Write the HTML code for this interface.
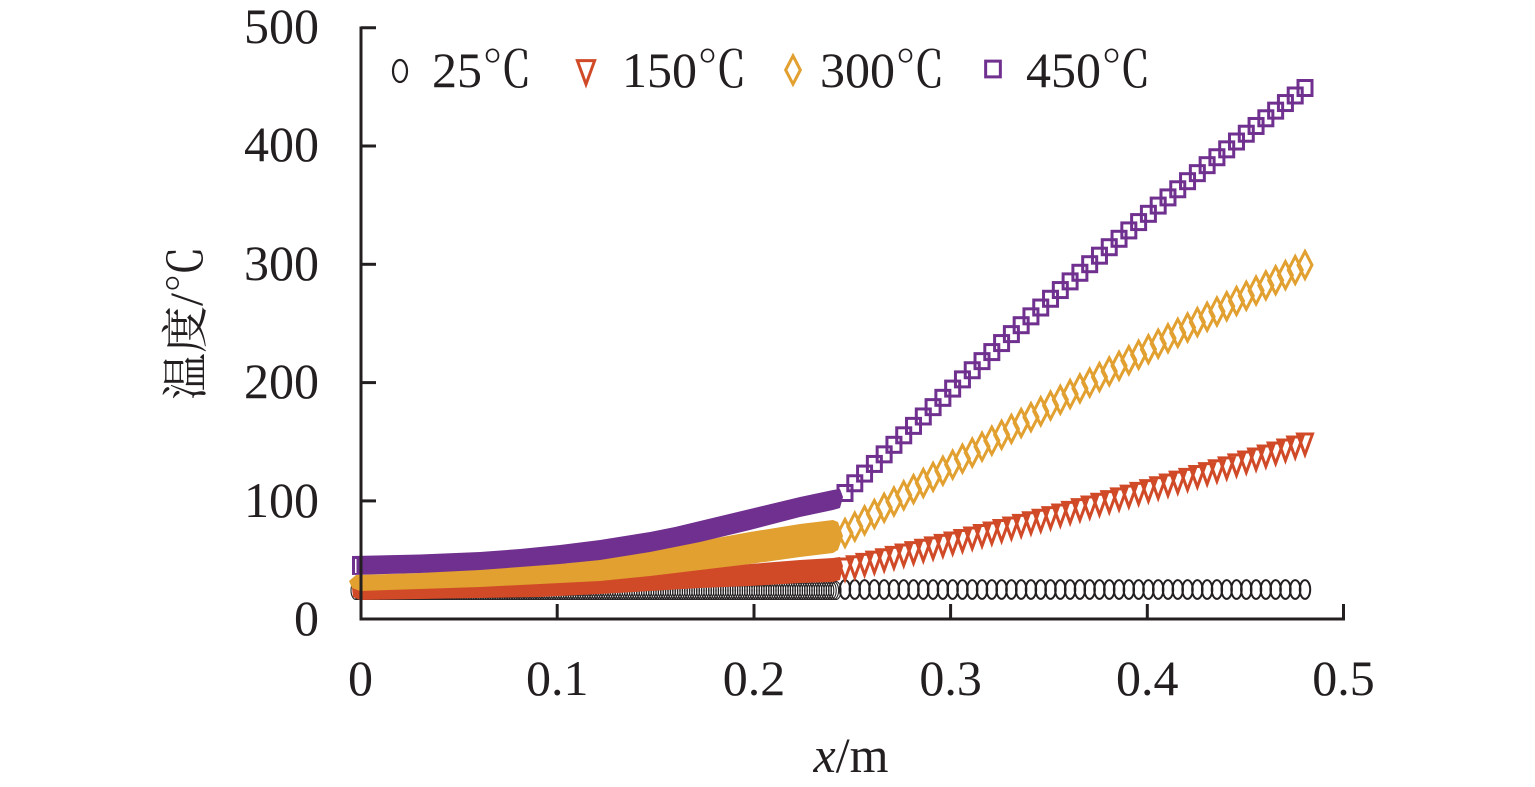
<!DOCTYPE html>
<html>
<head>
<meta charset="utf-8">
<style>
  html,body{margin:0;padding:0;background:#fff;}
  svg{display:block;}
  text{font-family:"Liberation Serif","Noto Serif CJK SC",serif;fill:#231f20;}
  .cj{font-family:"Noto Serif CJK SC","Liberation Serif",serif;}
</style>
</head>
<body>
<svg id="c" width="1535" height="787" viewBox="0 0 1535 787" xmlns="http://www.w3.org/2000/svg">
  <rect width="1535" height="787" fill="#fff"/>
  <g id="dense"></g>
  <!-- dense bands -->
  <polygon fill="#d14a28" points="352,588 360,588 420,587 480,585 540,583 600,579 650,574 700,568 750,564 800,560 833,558 840,557 843,566 840,580 833,582 800,583 750,586 700,588 650,591 600,594 540,597 480,598 420,599 360,600 353,597"/>
  <polygon fill="#e1a030" points="349,581 356,575 420,573 480,569 540,565 570,563 600,559 625,555 650,550 675,546 700,541 750,532 800,524 833,520 838,522 843,536 838,550 833,553 800,557 750,564 700,570 650,576 600,581 540,584 480,587 420,589 360,591 352,588"/>
  <polygon fill="#70308f" points="352,556 420,554.5 480,552 520,549 560,545 600,540 625,536 650,532 675,527 700,521 750,509 800,497 833,490 840,489 843,497 840,508 833,510 800,517 750,530 700,542 675,547 650,552 625,556 600,560 560,564 520,567 480,570 420,573 352,575"/>
  <rect x="355" y="559" width="1.5" height="14" fill="#fff"/>
  <g id="sparse"></g>

  <!-- axes -->
  <g stroke="#231f20" stroke-width="3" fill="none">
    <line x1="361" y1="26.5" x2="361" y2="620.5"/>
    <line x1="359.5" y1="619" x2="1345" y2="619"/>
    <line x1="361" y1="27.75" x2="376" y2="27.75"/>
    <line x1="361" y1="146" x2="376" y2="146"/>
    <line x1="361" y1="264.3" x2="376" y2="264.3"/>
    <line x1="361" y1="382.6" x2="376" y2="382.6"/>
    <line x1="361" y1="500.9" x2="376" y2="500.9"/>
    <line x1="557.2" y1="619" x2="557.2" y2="604"/>
    <line x1="754" y1="619" x2="754" y2="604"/>
    <line x1="950.6" y1="619" x2="950.6" y2="604"/>
    <line x1="1147.3" y1="619" x2="1147.3" y2="604"/>
    <line x1="1343.5" y1="620.5" x2="1343.5" y2="604"/>
  </g>

  <!-- y tick labels -->
  <g font-size="50" text-anchor="end">
    <text x="319" y="43">500</text>
    <text x="319" y="161">400</text>
    <text x="319" y="280">300</text>
    <text x="319" y="398">200</text>
    <text x="319" y="517">100</text>
    <text x="319" y="635">0</text>
  </g>
  <!-- x tick labels -->
  <g font-size="50" text-anchor="middle">
    <text x="360.5" y="695">0</text>
    <text x="557.2" y="695">0.1</text>
    <text x="754" y="695">0.2</text>
    <text x="950.6" y="695">0.3</text>
    <text x="1147.3" y="695">0.4</text>
    <text x="1343.5" y="695">0.5</text>
  </g>
  <!-- axis titles -->
  <text x="851" y="772" font-size="50" text-anchor="middle"><tspan font-style="italic">x</tspan>/m</text>
  <text transform="translate(202,323) rotate(-90)" font-size="47" text-anchor="middle"><tspan class="cj">温度</tspan>/<tspan class="cj">℃</tspan></text>

  <!-- legend -->
  <g font-size="50">
    <text x="432" y="87">25<tspan class="cj">℃</tspan></text>
    <text x="622" y="87">150<tspan class="cj">℃</tspan></text>
    <text x="820" y="87">300<tspan class="cj">℃</tspan></text>
    <text x="1026" y="87">450<tspan class="cj">℃</tspan></text>
  </g>
  <g id="legend"></g>
</svg>
<script>
(function(){
  var NS='http://www.w3.org/2000/svg';
  function el(tag, attrs, parent){
    var e=document.createElementNS(NS,tag);
    for(var k in attrs) e.setAttribute(k, attrs[k]);
    parent.appendChild(e); return e;
  }
  function q(p,x){
    var x0=p[0][0],y0=p[0][1],x1=p[1][0],y1=p[1][1],x2=p[2][0],y2=p[2][1];
    return y0*(x-x1)*(x-x2)/((x0-x1)*(x0-x2))+y1*(x-x0)*(x-x2)/((x1-x0)*(x1-x2))+y2*(x-x0)*(x-x1)/((x2-x0)*(x2-x1));
  }
  var BLK='#231f20', RED='#d14a28', ORG='#e1a030', PUR='#70308f';
  function circ(g,cx,cy,sw,rx,ry){el('ellipse',{cx:cx,cy:cy,rx:rx||5.2,ry:ry||9.4,fill:'none',stroke:BLK,'stroke-width':sw||2},g);}
  function tri(g,cx,cy,s){s=s||1;el('polygon',{points:(cx-7.5*s)+','+(cy-9*s)+' '+(cx+7.5*s)+','+(cy-9*s)+' '+cx+','+(cy+11.5*s),fill:'none',stroke:RED,'stroke-width':3},g);}
  function dia(g,cx,cy,s){s=s||1;el('polygon',{points:cx+','+(cy-13.5*s)+' '+(cx+7*s)+','+cy+' '+cx+','+(cy+13.5*s)+' '+(cx-7*s)+','+cy,fill:'none',stroke:ORG,'stroke-width':3},g);}
  function sq(g,cx,cy,s){s=s||1;el('rect',{x:cx-7*s,y:cy-7.5*s,width:14*s,height:15*s,fill:'none',stroke:PUR,'stroke-width':3},g);}

  var dense=document.getElementById('dense');
  for(var x=356;x<=836;x+=2.4){ circ(dense,x,590.5,1.1,5,9); }

  var sp=document.getElementById('sparse');
  var pur=[[845,493],[1147,215],[1305,88]];
  var org=[[845,533],[1147,350],[1305,265]];
  var red=[[845,568],[1075,510],[1305,443]];
  var xs=[]; for(var i=0;i<48;i++){ xs.push(845+i*(460/47)); }
  xs.forEach(function(x){ circ(sp,x,589.5); });
  xs.forEach(function(x){ tri(sp,x,q(red,x)); });
  xs.forEach(function(x){ dia(sp,x,q(org,x)); });
  xs.forEach(function(x){ sq(sp,x,q(pur,x)); });

  var lg=document.getElementById('legend');
  circ(lg,400,71,2.2,7,11); tri(lg,586,71,1.15); dia(lg,793,70,1.05); sq(lg,993,69,1.05);
})();
</script>
</body>
</html>
